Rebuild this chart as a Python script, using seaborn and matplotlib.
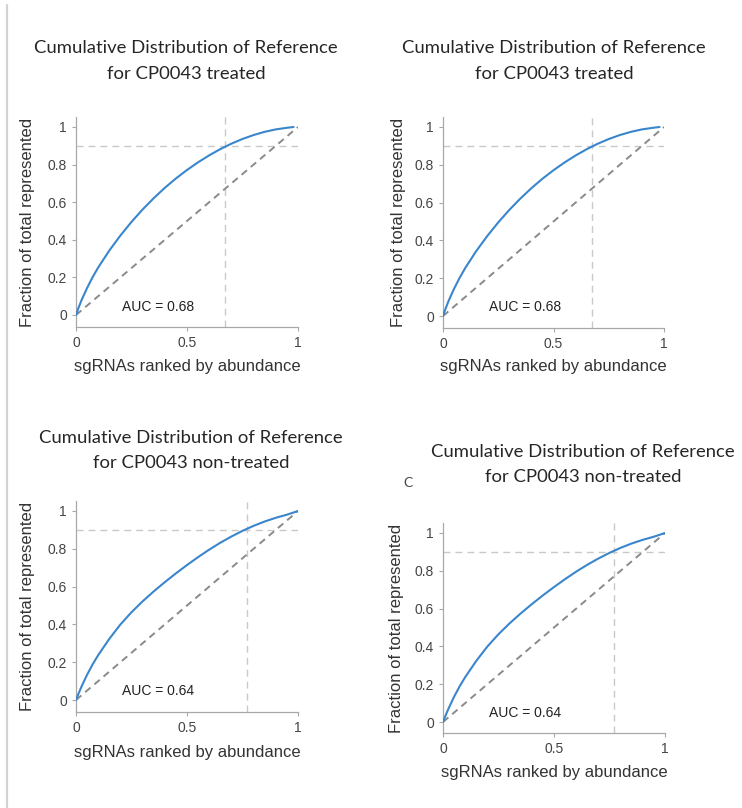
import numpy as np
import pandas as pd
import seaborn as sns
import matplotlib.pyplot as plt
from matplotlib.lines import Line2D

# ---------------- data ----------------
treated_x = [0, 0.01, 0.025, 0.05, 0.075, 0.1, 0.15, 0.2, 0.25, 0.3, 0.35, 0.4,
             0.45, 0.5, 0.55, 0.6, 0.65, 0.7, 0.75, 0.8, 0.85, 0.9, 0.95, 0.98]
treated_y = [0, 0.034, 0.079, 0.144, 0.2015, 0.2528, 0.3428, 0.4228, 0.4953, 0.5613, 0.6213, 0.6763,
             0.7263, 0.7713, 0.8123, 0.8493, 0.8823, 0.9113, 0.9363, 0.9573, 0.9743, 0.9873, 0.9958, 1.0]

nontreated_x = [0, 0.01, 0.025, 0.05, 0.075, 0.1, 0.15, 0.2, 0.25, 0.3, 0.35, 0.4,
                0.45, 0.5, 0.55, 0.6, 0.65, 0.7, 0.75, 0.8, 0.85, 0.9, 0.95, 1.0]
nontreated_y = [0, 0.03, 0.0713, 0.1338, 0.1888, 0.2375, 0.3235, 0.3995, 0.4645, 0.522, 0.5745, 0.6235,
                0.67, 0.714, 0.756, 0.7955, 0.832, 0.865, 0.895, 0.9215, 0.9445, 0.964, 0.9805, 1.0]

diag_x = [0, 1]
diag_y = [0, 1]
threshold = 0.9
cutoff_treated = 0.672
cutoff_nontreated = 0.772
auc_treated = 0.68
auc_nontreated = 0.64

title_line1 = "Cumulative Distribution of Reference"
title_treated = "for CP0043 treated"
title_nontreated = "for CP0043 non-treated"
xlabel = "sgRNAs ranked by abundance"
ylabel = "Fraction of total represented"
xticks = [0, 0.5, 1]
xtick_labels = ["0", "0.5", "1"]
yticks = [0, 0.2, 0.4, 0.6, 0.8, 1]
ytick_labels = ["0", "0.2", "0.4", "0.6", "0.8", "1"]

# ---------------- style ----------------
sns.set_theme(style="ticks")
plt.rcParams['font.family'] = ['Liberation Sans', 'DejaVu Sans']

W, H = 742, 808
fig = plt.figure(figsize=(W / 100, H / 100), dpi=100)
fig.patch.set_facecolor("white")

BLUE = "#3a86cc"
SPINE = "#a8a8a8"
TITLE_FONT = ["Lato", "DejaVu Sans"]

panels = [
    dict(l=76, r=298, t=117, b=327, p1=127, p0=315, tx=186, ty=48, ty2=74, xly=367, ylx=28,
         xs=treated_x, ys=treated_y, cut=cutoff_treated, auc=auc_treated, sub=title_treated),
    dict(l=443, r=664, t=117, b=328, p1=127, p0=316, tx=554, ty=48, ty2=74, xly=367, ylx=398,
         xs=treated_x, ys=treated_y, cut=cutoff_treated, auc=auc_treated, sub=title_treated),
    dict(l=76, r=298, t=501, b=712, p1=511, p0=700, tx=191, ty=438, ty2=463, xly=752, ylx=28,
         xs=nontreated_x, ys=nontreated_y, cut=cutoff_nontreated, auc=auc_nontreated, sub=title_nontreated),
    dict(l=443, r=665, t=523, b=733, p1=533, p0=722, tx=583, ty=452, ty2=477, xly=773, ylx=397,
         xs=nontreated_x, ys=nontreated_y, cut=cutoff_nontreated, auc=auc_nontreated, sub=title_nontreated),
]

for p in panels:
    w = p['r'] - p['l']
    h = p['b'] - p['t']
    ax = fig.add_axes([p['l'] / W, (H - p['b']) / H, w / W, h / H])
    ax.set_facecolor("white")
    s = p['p0'] - p['p1']
    ylo = -(p['b'] - p['p0']) / s
    yhi = 1 + (p['p1'] - p['t']) / s

    # reference lines
    ax.axhline(threshold, color="#c9c9c9", lw=1.0, dashes=(5, 3.6), zorder=1)
    ax.axvline(p['cut'], color="#c9c9c9", lw=1.0, dashes=(5, 3.6), zorder=1)
    sns.lineplot(x=diag_x, y=diag_y, ax=ax, color="#8a8a8a", lw=1.4,
                 zorder=2, estimator=None)
    ax.lines[-1].set_dashes((3.6, 2.6))

    df = pd.DataFrame({"rank": p['xs'], "frac": p['ys']})
    sns.lineplot(data=df, x="rank", y="frac", ax=ax, color=BLUE, lw=1.5,
                 estimator=None, sort=False, zorder=3)

    ax.set_xlim(0, 1)
    ax.set_ylim(ylo, yhi)
    ax.set_xticks(xticks)
    ax.set_xticklabels(xtick_labels)
    ax.set_yticks(yticks)
    ax.set_yticklabels(ytick_labels)
    for sp in ["top", "right"]:
        ax.spines[sp].set_visible(False)
    for sp in ["left", "bottom"]:
        ax.spines[sp].set_color(SPINE)
        ax.spines[sp].set_linewidth(0.9)
    ax.tick_params(length=3, width=0.8, color=SPINE, labelcolor="#444444",
                   labelsize=10, pad=3.5)

    ax.text(0.37, 0.045, f"AUC = {p['auc']:.2f}", ha="center", va="center",
            fontsize=10, color="#222222")

    ax.set_xlabel(xlabel, fontsize=12, color="#333333", va="center")
    ax.xaxis.set_label_coords(0.5, -(p['xly'] - p['b']) / h)
    ax.set_ylabel(ylabel, fontsize=12, color="#333333", va="center", ha="center")
    ax.yaxis.set_label_coords(-(p['l'] - p['ylx']) / w, 0.5)

    fig.text(p['tx'] / W, 1 - p['ty'] / H, title_line1, ha="center", va="center",
             fontsize=13.3, color="#262626", family=TITLE_FONT)
    fig.text(p['tx'] / W, 1 - p['ty2'] / H, p['sub'], ha="center", va="center",
             fontsize=13.3, color="#262626", family=TITLE_FONT)

# page frame line at the left and stray glyph
fig.add_artist(Line2D([6.5 / W, 6.5 / W], [0, 1 - 5 / H], transform=fig.transFigure,
                      color="#d2d2d2", lw=1.6))
fig.text(408 / W, 1 - 483 / H, "C", ha="center", va="center", fontsize=10,
         color="#444444", family=TITLE_FONT)

fig.savefig("out.png", dpi=100, facecolor="white")
